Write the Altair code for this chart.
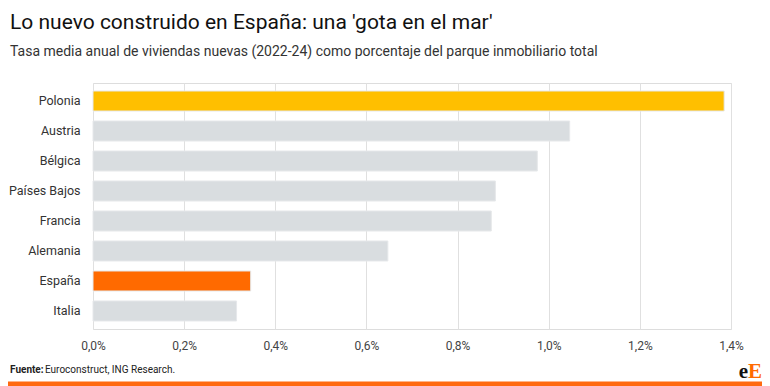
import altair as alt
import pandas as pd

# ---- data ----
countries = ["Polonia", "Austria", "Bélgica", "Países Bajos", "Francia", "Alemania", "España", "Italia"]
values = [1.385, 1.046, 0.975, 0.883, 0.874, 0.647, 0.346, 0.315]
bar_colors = ["#FFBF00", "#D9DDE0", "#D9DDE0", "#D9DDE0", "#D9DDE0", "#D9DDE0", "#FF6A00", "#D9DDE0"]

title_text = "Lo nuevo construido en España: una 'gota en el mar'"
subtitle_text = "Tasa media anual de viviendas nuevas (2022-24) como porcentaje del parque inmobiliario total"
source_label = "Fuente:"
source_text = "Euroconstruct, ING Research."
x_ticks = [0, 0.2, 0.4, 0.6, 0.8, 1.0, 1.2, 1.4]

df = pd.DataFrame({"pais": countries, "valor": values, "color": bar_colors})

bars = alt.Chart(df).mark_bar(stroke="#E6E8EA", strokeWidth=1).encode(
    y=alt.Y("pais:N", sort=countries, title=None,
            scale=alt.Scale(paddingInner=0.333, paddingOuter=0.267),
            axis=alt.Axis(domain=False, ticks=False, labelPadding=13, labelFontSize=12.5,
                          labelColor="#333333", labelFont="Roboto", grid=False)),
    x=alt.X("valor:Q", title=None,
            scale=alt.Scale(domain=[0, 1.4], nice=False),
            axis=alt.Axis(values=x_ticks, domain=False, ticks=False, labelPadding=11,
                          labelFontSize=12, labelColor="#444444", labelFont="Roboto",
                          labelFlush=False, labelOverlap=False,
                          grid=True, gridColor="#E0E0E0", gridWidth=1,
                          labelExpr="replace(format(datum.value, '.1f'), '.', ',') + '%'")),
    color=alt.Color("color:N", scale=None),
)

one = pd.DataFrame({"k": [0]})

def txt(text, x, y, size, weight="normal", color="#111111", font="Roboto", align="left"):
    return alt.Chart(pd.DataFrame({"t": [text]})).mark_text(
        align=align, baseline="alphabetic", fontSize=size, fontWeight=weight,
        color=color, font=font
    ).encode(text="t:N", x=alt.value(x), y=alt.value(y))

title = txt(title_text, -83, -54, 21, color="#111111")
subtitle = txt(subtitle_text, -83, -27, 14, color="#333333")
src1 = txt(source_label, -83, 290, 10, weight="bold", color="#222222")
src2 = txt(source_text, -48, 290, 10, color="#222222")
logo_e = txt("e", 655, 295, 21, weight="bold", color="#111111", font="Liberation Serif", align="right")
logo_E = txt("E", 655, 295, 21, weight="bold", color="#FF6A00", font="Liberation Serif", align="left")

orange_line = alt.Chart(one).mark_rule(color="#FF6A10", strokeWidth=5).encode(
    x=alt.value(-85), x2=alt.value(669), y=alt.value(301)
)

chart = alt.layer(bars, title, subtitle, src1, src2, logo_e, logo_E, orange_line).properties(
    width=638, height=246,
    padding={"left": 85, "top": 75, "right": 31, "bottom": 57},
    autosize=alt.AutoSizeParams(type="none"),
    background="white",
).configure_view(stroke=None).configure(font="Roboto")

chart.save("out.html", embed_options={"renderer": "svg", "actions": False})
